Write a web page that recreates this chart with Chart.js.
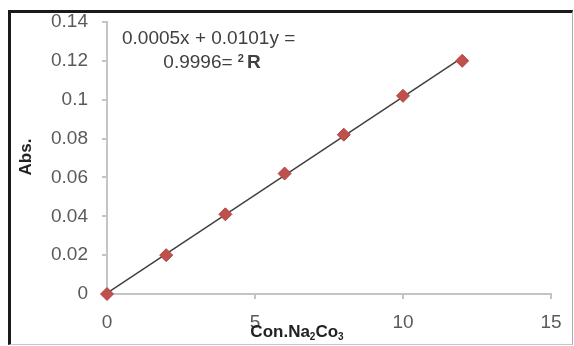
<!DOCTYPE html>
<html>
<head>
<meta charset="utf-8">
<script src="https://cdn.jsdelivr.net/npm/chart.js@4/dist/chart.umd.min.js"></script>
<style>
  html, body { margin: 0; padding: 0; background: #fff; }
  #wrap { position: relative; width: 574px; height: 346px; }
  #frame {
    position: absolute; left: 8px; top: 10px; width: 561px; height: 331px;
    border-left: 3px solid #1a1a1a; border-top: 3px solid #1a1a1a;
    border-right: 1px solid #b0b0b0; border-bottom: 1px solid #c8c8c8;
    pointer-events: none;
  }
  canvas { position: absolute; left: 0; top: 0; }
</style>
</head>
<body>
<div id="wrap">
  <canvas id="chart" width="574" height="346"></canvas>
  <div id="frame"></div>
</div>
<script>
  // ── data ──
  const concentrations = [0, 2, 4, 6, 8, 10, 12];
  const absorbance     = [0, 0.02, 0.041, 0.062, 0.082, 0.102, 0.12];
  const trendSlope     = 0.0101;
  const trendIntercept = 0.0005;
  const xTicks = [0, 5, 10, 15];
  const yMax   = 0.14;
  const equationLines = ['0.0005x + 0.0101y =', '0.9996= '];

  const TEXT = '#5a5a5a';
  const AXIS = '#c4c4c4';
  const FONT = "'Liberation Sans', Arial, sans-serif";

  const points = concentrations.map((c, i) => ({ x: c, y: absorbance[i] }));
  const xFirst = concentrations[0];
  const xLast = concentrations[concentrations.length - 1];
  const trend = [xFirst, xLast].map(x => ({ x, y: trendIntercept + trendSlope * x }));

  // ── text drawn on top: axis titles and trendline equation ──
  const annotations = {
    id: 'annotations',
    afterDraw(chart) {
      const c = chart.ctx;
      c.save();

      // y title
      c.fillStyle = '#222';
      c.font = 'bold 17px ' + FONT;
      c.textAlign = 'center';
      c.textBaseline = 'middle';
      c.translate(26, 157);
      c.rotate(-Math.PI / 2);
      c.fillText('Abs.', 0, 0);
      c.setTransform(1, 0, 0, 1, 0, 0);

      // x title with subscripts
      const parts = [['Con.Na', 17, 0], ['2', 10, 3], ['Co', 17, 0], ['3', 10, 3]];
      let total = 0;
      parts.forEach(p => { c.font = 'bold ' + p[1] + 'px ' + FONT; total += c.measureText(p[0]).width; });
      let x = 297 - total / 2;
      c.textAlign = 'left';
      c.textBaseline = 'alphabetic';
      parts.forEach(p => {
        c.font = 'bold ' + p[1] + 'px ' + FONT;
        c.fillText(p[0], x, 337 + p[2]);
        x += c.measureText(p[0]).width;
      });

      // equation
      c.fillStyle = '#404040';
      c.font = '19px ' + FONT;
      c.textAlign = 'left';
      c.textBaseline = 'middle';
      c.fillText(equationLines[0], 122, 39);
      const w2 = c.measureText(equationLines[1]).width;
      c.font = 'bold 11px ' + FONT;
      const wSup = c.measureText('2').width + 3;
      c.font = 'bold 19px ' + FONT;
      const wR = c.measureText('R').width;
      let sx = 212 - (w2 + wSup + wR) / 2;
      c.font = '19px ' + FONT;
      c.fillText(equationLines[1], sx, 63);
      sx += w2;
      c.font = 'bold 11px ' + FONT;
      c.fillText('2', sx, 59);
      sx += wSup;
      c.font = 'bold 19px ' + FONT;
      c.fillText('R', sx, 63);

      c.restore();
    }
  };

  new Chart(document.getElementById('chart'), {
    type: 'scatter',
    data: {
      datasets: [
        {
          type: 'line',
          label: 'Trend',
          data: trend,
          borderColor: '#404040',
          borderWidth: 1.5,
          pointRadius: 0,
          fill: false,
          clip: false,
          order: 2
        },
        {
          label: 'Abs.',
          data: points,
          pointStyle: 'rectRot',
          pointRadius: 6.5,
          backgroundColor: '#C0504D',
          borderColor: '#B04540',
          borderWidth: 1,
          clip: false,
          order: 1
        }
      ]
    },
    options: {
      responsive: false,
      animation: false,
      layout: { padding: { left: 0, right: 23, top: 22, bottom: 0 } },
      scales: {
        x: {
          type: 'linear',
          min: xTicks[0], max: xTicks[xTicks.length - 1],
          afterBuildTicks: s => { s.ticks = xTicks.map(v => ({ value: v })); },
          afterFit: s => { s.height = 52; s.paddingLeft = 0; s.paddingRight = 0; },
          grid: { drawOnChartArea: false, drawTicks: true, tickLength: 5, color: AXIS, lineWidth: 2 },
          border: { color: AXIS, width: 2 },
          ticks: { color: TEXT, font: { family: FONT, size: 19 }, padding: 12, maxRotation: 0 }
        },
        y: {
          min: 0, max: yMax,
          afterFit: s => { s.width = 107; s.paddingTop = 0; s.paddingBottom = 0; },
          grid: { drawOnChartArea: false, drawTicks: true, tickLength: 5, color: AXIS, lineWidth: 2 },
          border: { color: AXIS, width: 2 },
          ticks: {
            stepSize: 0.02, color: TEXT, font: { family: FONT, size: 19 }, padding: 14,
            callback: v => String(+v.toFixed(2))
          }
        }
      },
      plugins: { legend: { display: false }, tooltip: { enabled: false } }
    },
    plugins: [annotations]
  });
</script>
</body>
</html>
